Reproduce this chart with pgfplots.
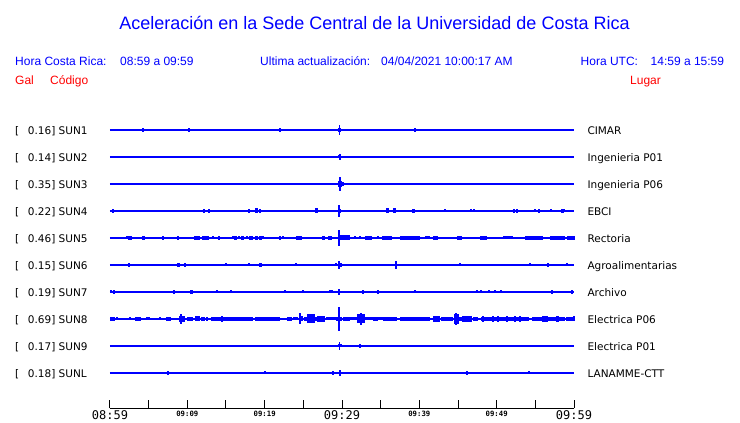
\documentclass[border=0pt]{standalone}
\usepackage{pgfplots}
\pgfplotsset{compat=1.18}
\usepackage{pgfplotstable}
\usepackage{fontspec}
\setmainfont{Liberation Sans}
\newfontfamily\dejavu{DejaVu Sans}
\newfontfamily\dmono{DejaVu Sans Mono}
\definecolor{cblue}{RGB}{0,0,255}
\definecolor{cred}{RGB}{255,0,0}

% p = position along the time axis (px), h = half height (px), w = width (px)
\pgfplotstableread{
p h w
143 2 1.3
189 2 1.3
280 2 1.3
339.5 5 1.3
339.5 2 3
415 2 1.3
}\sunA
\pgfplotstableread{
p h w
340 3 1.3
340 1.5 3
}\sunB
\pgfplotstableread{
p h w
340 7 1.3
340 3 4
342 2 3
}\sunC
\pgfplotstableread{
p h w
113 2 1.3
150 1 1.3
204 2 1.3
209 2 1.3
232 1 1.3
249 2 1.3
257 2.5 3
260 2 1.3
316 2.5 3
339 6 1.3
340 2 3
346 1 1.3
355 1 1.3
388 2.5 3
395 2.5 3
401 1 1.3
414 2 3
445 1.5 1.3
453 1 1.3
471 1.5 1.3
474 1.5 1.3
514 2 1.3
517 2 1.3
535 1.5 1.3
539 2 1.3
544 1 1.3
551 1.5 1.3
562 2 3
564 1.5 1.3
567 1 1.3
569 1 1.3
572 1 1.3
}\sunD
\pgfplotstableread{
p h w
127 1.5 1.3
129 2 1.3
131 2 1.3
144 2 3
163 2 1.3
170 1 1.3
178 2 2.5
197 2 6
205.5 2 7
213 1.5 1.3
217 1 1.3
219 2 1.3
233 1.5 1.3
235 2 3
239 1.5 1.3
243 2 3
247 1.5 1.3
251.5 2 4
257 2 3
260 2 3
263 1.5 1.3
280 2 1.3
283 1.5 1.3
289 1 1.3
299.5 2 6
311 1 1.3
323 2 3
330 2 4
339 8 1.3
344 2.5 12
355 1.5 1.3
360 1.5 1.3
368.5 2 7
378 1.5 1.3
387 2 10
397 1 1.3
410 2 20
427.5 1.5 5
435.5 2 5
459.5 2 5
472 1 1.3
483.5 2 7
498 1 1.3
508 1.5 10
518 1 1.3
534 2 18
557.5 2 15
571 2 8
}\sunE
\pgfplotstableread{
p h w
129 2 1.3
179 2 3
185 2 1.3
214 1 1.3
226 1.5 1.3
249 1.5 1.3
261 2 3
296 1.5 1.3
336 1.5 1.3
339 4 1.3
341 2 3
396 4 1.3
435 1 1.3
460 1.5 1.3
530 1.5 1.3
548 2 1.3
554 1 1.3
567 1.5 1.3
}\sunF
\pgfplotstableread{
p h w
111 1.5 1.3
114 2 1.3
148 1 1.3
158 1 1.3
174 2 2.5
192 2 3
217 1.5 1.3
222 1 1.3
231 1.5 1.3
285 1.5 1.3
291 1 1.3
303 1.5 1.3
312 1 1.3
330 1.5 1.3
332 1.5 1.3
339 3 1.3
344 1 1.3
363 2 2.5
378 2 2.5
385 1 1.3
415 1.5 1.3
422 1 1.3
441 1 1.3
452 1 1.3
473 1 1.3
477 1.5 1.3
481 1.5 1.3
489 1.5 1.3
495 1.5 1.3
501 1.5 1.3
552 2 2.5
556 1 1.3
572 2 2.5
}\sunG
\pgfplotstableread{
p h w
112.5 2 5
117 1.5 1.3
130 1.5 1.3
138 2 6
147 1.5 1.3
149 1.5 1.3
160 1.5 1.3
168.5 2 5
182 3 6
181 5 1.3
190 2 6
197.5 2.5 5
203 2 4
207 2 2
214 2 6
233.5 2 33
222 3 1.3
251.5 2 3
267.5 2 25
289.5 2 5
295.5 1.5 5
301 2.5 4
300 5.5 1.3
305.5 2 3
311 4.5 8
316 2 2
321 3 8
331 1.5 10
339 2 6
339 12 1.3
346.5 2 7
353.5 1.5 7
361 4.5 8
361 6 1.3
369 1.5 8
375.5 2 5
380.5 1.5 5
390 2 14
415 2 30
436.5 3 7
447 2 12
456.5 5 5
456 6 1.3
460.5 2 3
467 3 10
475.5 2 5
505 2 48
483 3 1.3
493 3 1.3
498 3 1.3
507 3 1.3
515 3 1.3
520 3 1.3
548.5 2 33
545 3 6
557 3 3
569.5 2 7
574 2.5 1.3
}\sunH
\pgfplotstableread{
p h w
339.5 4 1.3
340 1.5 4
360 2 1.3
}\sunI
\pgfplotstableread{
p h w
168 2 1.3
265 1.5 1.3
333 2 2
340 3 1.3
467 2 1.3
471 1 1.3
529 1.5 1.3
}\sunL

\pgfdeclareplotmark{blob}{%
  \pgfpathrectangle{\pgfpoint{-0.5pt*\bw}{-1pt*\bh}}{\pgfpoint{1pt*\bw}{2pt*\bh}}%
  \pgfusepathqfill}

\newcommand{\trace}[2]{%
  \addplot[cblue, line width=1.2pt, forget plot] coordinates {(0,#2) (60,#2)};
  \addplot[only marks, mark=blob, color=cblue, fill=cblue, mark options={fill=cblue},
    visualization depends on={\thisrow{w}\as\bw},
    visualization depends on={\thisrow{h}\as\bh},
    forget plot] table[x expr=(\thisrow{p}-110)/7.7333, y expr=#2] {#1};
}
\newcommand{\Lt}[1]{{\dmono\fontsize{12}{12}\selectfont #1}}
\newcommand{\St}[1]{\raisebox{3pt}{\dmono\bfseries\fontsize{7.3}{8}\selectfont #1}}

\begin{document}
\begin{tikzpicture}
\begin{axis}[
  at={(0,0)}, anchor=south west,
  scale only axis, width=464pt, height=308.5pt,
  xmin=0, xmax=60, ymin=-35.5, ymax=273,
  axis x line*=bottom, axis y line=none,
  axis line style={black, line width=1pt},
  xtick={0,5,...,60}, ytick=\empty,
  xticklabels={\Lt{08:59},,\St{09:09},,\St{09:19},,\Lt{09:29},,\St{09:39},,\St{09:49},,\Lt{09:59}},
  xticklabel style={anchor=base, yshift=-11.5pt, inner sep=0pt},
  tick align=inside, major tick length=8pt,
  tick style={black, line width=1pt},
  clip=false,
]
\trace{\sunA}{243}
\trace{\sunB}{216}
\trace{\sunC}{189}
\trace{\sunD}{162}
\trace{\sunE}{135}
\trace{\sunF}{108}
\trace{\sunG}{81}
\trace{\sunH}{54}
\trace{\sunI}{27}
\trace{\sunL}{0}
\end{axis}
\begin{scope}[x=1pt, y=-1pt, shift={(-110pt,408.5pt)}]
\node[anchor=base, text=cblue, font=\fontsize{18}{20}\selectfont, inner sep=0pt] at (374.5,29.5) {Aceleración en la Sede Central de la Universidad de Costa Rica};
\begin{scope}[every node/.style={anchor=base west, inner sep=0pt, font=\fontsize{12}{14}\selectfont}]
\node[text=cblue] at (15,66) {Hora Costa Rica:};
\node[text=cblue] at (120,66) {08:59 a 09:59};
\node[text=cblue] at (260,66) {Ultima actualización:};
\node[text=cblue] at (381,66) {04/04/2021 10:00:17 AM};
\node[text=cblue] at (580.5,66) {Hora UTC:};
\node[text=cblue] at (650.5,66) {14:59 a 15:59};
\node[text=cred] at (15,85) {Gal};
\node[text=cred] at (50,85) {Código};
\node[text=cred] at (630,85) {Lugar};
\end{scope}
\begin{scope}[every node/.style={anchor=base west, inner sep=0pt, font=\dejavu\fontsize{10.5}{12}\selectfont}]
\foreach \v/\c/\l [count=\i from 0] in {0.16/SUN1/CIMAR, 0.14/SUN2/Ingenieria P01, 0.35/SUN3/Ingenieria P06, 0.22/SUN4/EBCI, 0.46/SUN5/Rectoria, 0.15/SUN6/Agroalimentarias, 0.19/SUN7/Archivo, 0.69/SUN8/Electrica P06, 0.17/SUN9/Electrica P01, 0.18/SUNL/LANAMME-CTT}{
  \node at (15,{134.3+27*\i}) {[};
  \node at (27.7,{134.3+27*\i}) {\v] \c};
  \node at (587.3,{134.3+27*\i}) {\l};
}
\end{scope}
\pgfresetboundingbox
\path[use as bounding box] (0,0) rectangle (740,423);
\end{scope}
\end{tikzpicture}
\end{document}
